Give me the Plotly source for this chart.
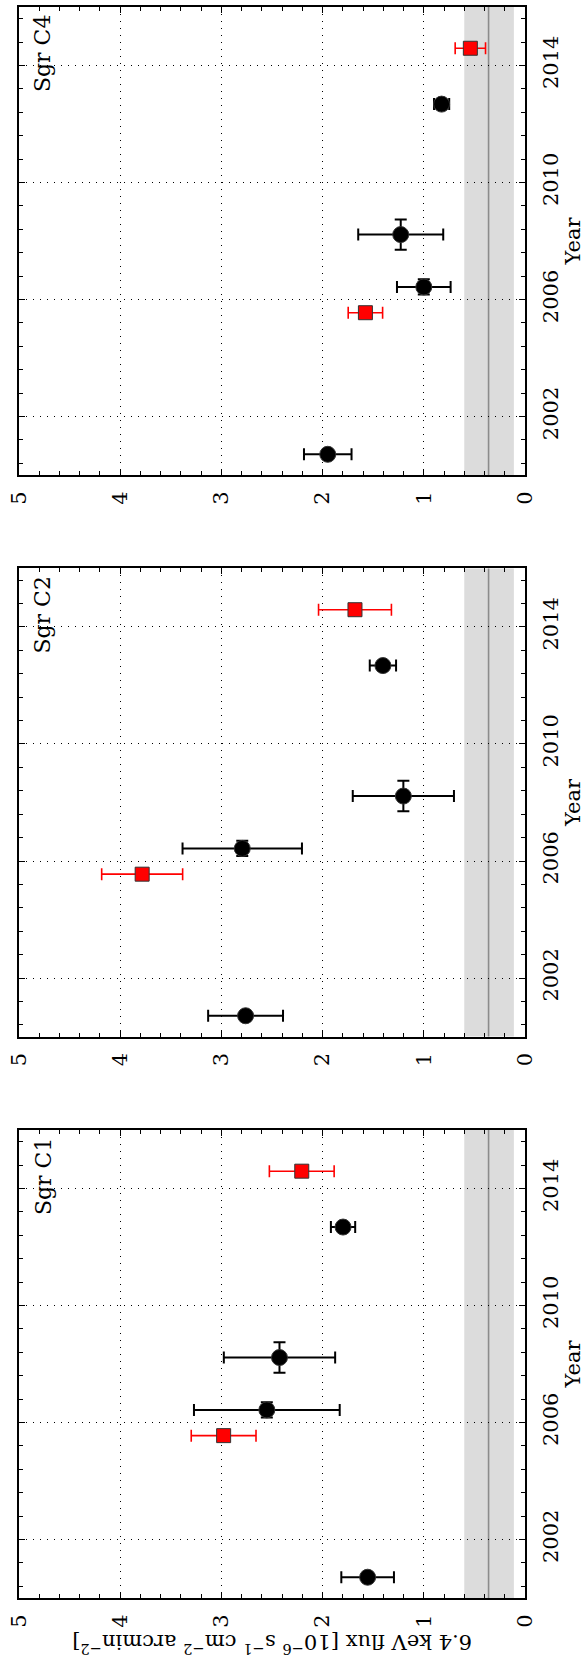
import plotly.graph_objects as go
from plotly.subplots import make_subplots

# 6.4 keV flux history of Sgr C clouds (figure drawn rotated 90 deg)

# epochs (year)
YEARS_BLACK = [2000.71, 2006.43, 2008.22, 2012.68]
YEARS_BLACK_ERR = [0.0, 0.26, 0.52, 0.0]
YEARS_RED = [2005.55, 2014.59]

# flux values per cloud [1e-6 s-1 cm-2 arcmin-2]
CLOUDS = ["Sgr C4", "Sgr C2", "Sgr C1"]   # top -> bottom
FLUX_BLACK = {
    "Sgr C1": [1.555, 2.551, 2.426, 1.798],
    "Sgr C2": [2.761, 2.794, 1.202, 1.404],
    "Sgr C4": [1.949, 1.000, 1.228, 0.824],
}
FLUX_BLACK_ERR = {
    "Sgr C1": [0.26, 0.72, 0.55, 0.12],
    "Sgr C2": [0.37, 0.59, 0.50, 0.13],
    "Sgr C4": [0.235, 0.265, 0.42, 0.075],
}
FLUX_RED = {
    "Sgr C1": [2.978, 2.206],
    "Sgr C2": [3.783, 1.680],
    "Sgr C4": [1.577, 0.540],
}
FLUX_RED_ERR = {
    "Sgr C1": [0.32, 0.32],
    "Sgr C2": [0.40, 0.36],
    "Sgr C4": [0.17, 0.15],
}

# background level and its band
BKG_LEVEL = 0.36
BKG_LO, BKG_HI = 0.11, 0.60

FLUX_TICKS = [0, 1, 2, 3, 4, 5]
YEAR_TICKS = [2002, 2006, 2010, 2014]

FONT = "DejaVu Serif"

fig = make_subplots(rows=3, cols=1, vertical_spacing=0.0587)

for i, cloud in enumerate(CLOUDS):
    row = i + 1

    fig.add_trace(go.Scatter(
        x=FLUX_BLACK[cloud], y=YEARS_BLACK, mode="markers",
        marker=dict(symbol="circle", size=16, color="black",
                    line=dict(color="#333333", width=1)),
        error_x=dict(type="data", array=FLUX_BLACK_ERR[cloud], color="black",
                     thickness=2, width=6),
        error_y=dict(type="data", array=YEARS_BLACK_ERR, color="black",
                     thickness=2, width=6),
        showlegend=False), row=row, col=1)

    fig.add_trace(go.Scatter(
        x=FLUX_RED[cloud], y=YEARS_RED, mode="markers",
        marker=dict(symbol="square", size=14, color="#ff0000",
                    line=dict(color="#333333", width=1)),
        error_x=dict(type="data", array=FLUX_RED_ERR[cloud], color="#ff0000",
                     thickness=1.6, width=6),
        showlegend=False), row=row, col=1)

    # background band + level (after traces so the subplot is not "empty")
    fig.add_vrect(x0=BKG_LO, x1=BKG_HI, fillcolor="#dcdcdc", opacity=1, line_width=0,
                  layer="below", row=row, col=1)
    fig.add_vline(x=BKG_LEVEL, line_color="#8c8c8c", line_width=1.6,
                  layer="below", row=row, col=1)

    fig.update_xaxes(
        range=[5, 0], tickvals=FLUX_TICKS, ticktext=[str(t) for t in FLUX_TICKS],
        tickangle=-90, ticks="inside", ticklen=6, tickwidth=1, tickcolor="black",
        showline=True, linecolor="black", linewidth=2, mirror="allticks",
        showgrid=True, gridcolor="black", gridwidth=1, griddash="1px,6px",
        zeroline=False, ticklabelstandoff=6, automargin=False,
        minor=dict(dtick=0.2, tick0=0, ticks="inside", ticklen=4,
                   tickcolor="black", showgrid=False),
        tickfont=dict(family=FONT, size=21, color="black"),
        row=row, col=1)

    fig.update_yaxes(
        range=[2000, 2016], tickvals=YEAR_TICKS, side="right",
        tickangle=-90, ticks="inside", ticklen=6, tickwidth=1, tickcolor="black",
        showline=True, linecolor="black", linewidth=2, mirror="allticks",
        showgrid=True, gridcolor="black", gridwidth=1, griddash="1px,6px",
        zeroline=False, ticklabelstandoff=6, automargin=False,
        minor=dict(dtick=0.8, tick0=2002, ticks="inside", ticklen=4,
                   tickcolor="black", showgrid=False),
        tickfont=dict(family=FONT, size=21, color="black"),
        title=dict(text="Year", standoff=10,
                   font=dict(family=FONT, size=21, color="black")),
        row=row, col=1)

    xref = "x domain" if row == 1 else f"x{row} domain"
    yref = "y domain" if row == 1 else f"y{row} domain"
    # cloud name, top-left of panel
    fig.add_annotation(text=cloud, xref=xref, yref=yref, x=0.047, y=0.901,
                       xanchor="center", yanchor="middle", textangle=-90,
                       showarrow=False, font=dict(family=FONT, size=22, color="black"))

# flux axis title, upside down under the bottom panel
fig.add_annotation(
    text="6.4 keV flux [10<sup>\u22126</sup> s<sup>\u22121</sup> cm<sup>\u22122</sup> arcmin<sup>\u22122</sup>]",
    xref="paper", yref="paper", x=0.5, y=-0.0293, xanchor="center", yanchor="middle",
    textangle=180, showarrow=False, font=dict(family=FONT, size=21, color="black"))

fig.update_layout(
    width=585, height=1666,
    margin=dict(l=19, r=59.5, t=6.7, b=67.7),
    plot_bgcolor="white", paper_bgcolor="white",
)

# page body has a default 8px margin; drop it so the figure fills the window
fig.write_html("out.html", config={"displayModeBar": False},
               post_script="document.body.style.margin='0';")
